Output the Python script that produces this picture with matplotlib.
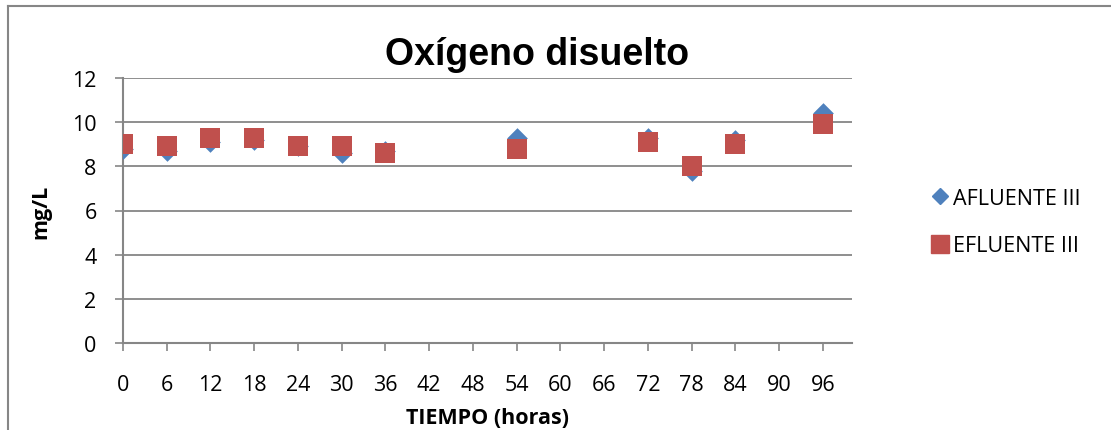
import matplotlib
matplotlib.use("Agg")
import matplotlib.pyplot as plt
from matplotlib.lines import Line2D

# horas de muestreo
tiempo = [0, 6, 12, 18, 24, 30, 36, 54, 72, 78, 84, 96]
afluente = [8.8, 8.7, 9.1, 9.2, 8.9, 8.6, 8.7, 9.3, 9.3, 7.8, 9.2, 10.4]
efluente = [9.0, 8.9, 9.3, 9.3, 8.9, 8.9, 8.6, 8.8, 9.1, 8.0, 9.0, 9.9]
x_ticks = list(range(0, 97, 6))
y_ticks = [0, 2, 4, 6, 8, 10, 12]

azul = '#4F81BD'
rojo = '#C0504D'
gris = '#868686'

plt.rcParams['font.family'] = ['Open Sans', 'DejaVu Sans']

fig = plt.figure(figsize=(11.11, 4.31), dpi=100)
ax = fig.add_axes([123/1111, 1-344/431, (852-123)/1111, (344-79)/431])

ax.scatter(tiempo, afluente, marker='D', s=10.5**2, color=azul, label='AFLUENTE III', zorder=3, linewidths=0)
ax.scatter(tiempo, efluente, marker='s', s=14**2, color=rojo, label='EFLUENTE III', zorder=4, linewidths=0)

ax.set_xlim(0, 100)
ax.set_ylim(0, 12)
ax.set_xticks(x_ticks)
ax.set_yticks(y_ticks)
ax.tick_params(axis='both', labelsize=15.5, color=gris, width=1.2, length=6, direction='out')
ax.tick_params(axis='x', pad=16)
ax.tick_params(axis='y', pad=13)
ax.grid(axis='y', color=gris, linewidth=1.3)
ax.set_axisbelow(True)
for s in ['top', 'right']:
    ax.spines[s].set_visible(False)
for s in ['left', 'bottom']:
    ax.spines[s].set_color(gris)
    ax.spines[s].set_linewidth(1.5)

ax.set_xlabel('TIEMPO (horas)', fontsize=15.5, fontweight='bold', labelpad=9)
ax.set_ylabel('mg/L', fontsize=15.5, fontweight='bold', labelpad=15)

fig.text(537/1111, 1-55/431, 'Oxígeno disuelto', fontsize=27, fontweight='bold',
         ha='center', va='center', family=['Liberation Sans', 'DejaVu Sans'])

handles = [Line2D([], [], marker='D', linestyle='', color=azul, markersize=8.5),
           Line2D([], [], marker='s', linestyle='', color=rojo, markersize=12.5)]
fig.legend(handles, ['AFLUENTE III', 'EFLUENTE III'], loc='center left',
           bbox_to_anchor=(910/1111, 1-223/431), frameon=False, fontsize=15.5,
           handletextpad=0.1, labelspacing=1.25, handlelength=1.0)

# marco del grafico
fig.add_artist(Line2D([8/1111, 8/1111], [0, 1-7/431], transform=fig.transFigure, color=gris, linewidth=1.5))
fig.add_artist(Line2D([8/1111, 1], [1-7/431, 1-7/431], transform=fig.transFigure, color=gris, linewidth=1.5))

fig.savefig('out.png', dpi=100)
